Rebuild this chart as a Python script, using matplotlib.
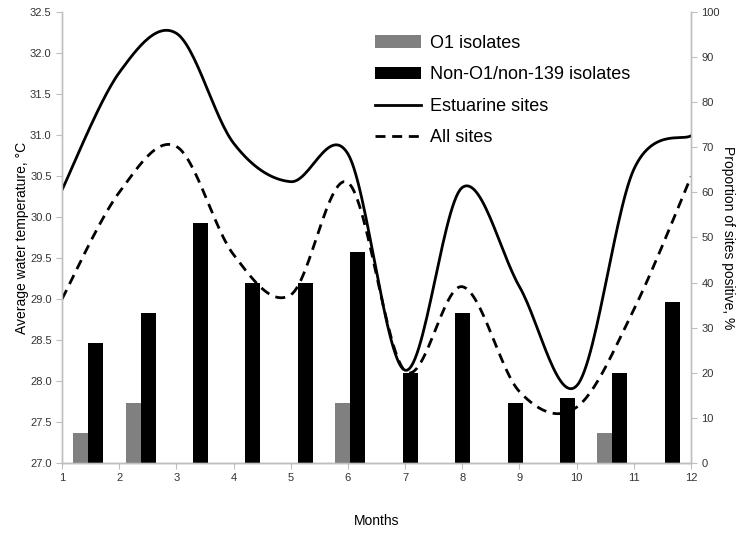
import numpy as np
import matplotlib
matplotlib.use("Agg")
import matplotlib.pyplot as plt
from matplotlib.patches import Patch
from matplotlib.lines import Line2D

# months on the x axis
months = [1, 2, 3, 4, 5, 6, 7, 8, 9, 10, 11, 12]

# average water temperature, deg C
estuarine = [30.33, 31.76, 32.24, 30.90, 30.43, 30.77, 28.13, 30.36, 29.15, 27.94, 30.58, 30.99]
all_sites = [29.00, 30.30, 30.86, 29.54, 29.05, 30.42, 28.12, 29.15, 27.87, 27.68, 28.87, 30.49]

# proportion of sites positive, % (12 bar groups)
o1_isolates = [6.7, 13.3, 0, 0, 0, 13.3, 0, 0, 0, 0, 6.7, 0]
non_o1 = [26.7, 33.3, 53.3, 40.0, 40.0, 46.7, 20.0, 33.3, 13.3, 14.3, 20.0, 35.7]


def smooth(x, y, n=30):
    # Excel-style smoothed line (Catmull-Rom bezier)
    x = np.asarray(x, float)
    y = np.asarray(y, float)
    px = np.concatenate([[x[0]], x, [x[-1]]])
    py = np.concatenate([[y[0]], y, [y[-1]]])
    xs, ys = [], []
    t = np.linspace(0, 1, n)
    for i in range(1, len(px) - 2):
        p0 = np.array([px[i], py[i]])
        p3 = np.array([px[i + 1], py[i + 1]])
        p1 = p0 + (p3 - np.array([px[i - 1], py[i - 1]])) / 6
        p2 = p3 - (np.array([px[i + 2], py[i + 2]]) - p0) / 6
        pts = ((1 - t) ** 3)[:, None] * p0 + (3 * (1 - t) ** 2 * t)[:, None] * p1 \
            + (3 * (1 - t) * t ** 2)[:, None] * p2 + (t ** 3)[:, None] * p3
        xs.extend(pts[:, 0])
        ys.extend(pts[:, 1])
    return xs, ys


plt.rcParams['font.family'] = ['Liberation Sans', 'DejaVu Sans']

fig = plt.figure(figsize=(7.5, 5.44), dpi=100)
ax = fig.add_axes([0.0827, 0.149, 0.8386, 0.829])
ax2 = ax.twinx()

# bars on the percentage axis
ncat = len(non_o1)
centers = 1 + (np.arange(ncat) + 0.5) * 11 / ncat
w = 0.262
ax.bar(centers - w / 2, o1_isolates, width=w, color='#808080', linewidth=0)
ax.bar(centers + w / 2, non_o1, width=w, color='black', linewidth=0)
ax.set_ylim(0, 100)
ax.set_xlim(1, 12)
ax.yaxis.tick_right()
ax.yaxis.set_label_position('right')
ax.set_yticks(range(0, 101, 10))
ax.set_ylabel('Proportion of sites positive, %', rotation=270, labelpad=11, fontsize=10)

# temperature lines
dash = (0, (3.6, 2.4))
sx, sy = smooth(months, estuarine)
ax2.plot(sx, sy, color='black', lw=2.0, solid_capstyle='round')
sx, sy = smooth(months, all_sites)
ax2.plot(sx, sy, color='black', lw=2.0, linestyle=dash)
ax2.set_ylim(27.0, 32.5)
ax2.yaxis.tick_left()
ax2.yaxis.set_label_position('left')
ticks = np.arange(27.0, 32.51, 0.5)
ax2.set_yticks(ticks)
ax2.set_yticklabels([f'{v:.1f}' for v in ticks])
ax2.set_ylabel('Average water temperature, °C', fontsize=10, labelpad=1)

ax.set_xticks(months)
ax.set_xlabel('Months', fontsize=10, labelpad=22)

for a in (ax, ax2):
    a.spines['top'].set_visible(False)
    for s in ('left', 'right', 'bottom'):
        a.spines[s].set_color('#bfbfbf')
        a.spines[s].set_linewidth(1.0)
    a.tick_params(axis='both', colors='#bfbfbf', labelcolor='#333333',
                  labelsize=8, length=4, width=0.8)
ax.spines['bottom'].set_color('#9a9a9a')

handles = [
    Patch(facecolor='#808080', edgecolor='none', label='O1 isolates'),
    Patch(facecolor='black', edgecolor='none', label='Non-O1/non-139 isolates'),
    Line2D([], [], color='black', lw=2.0, label='Estuarine sites'),
    Line2D([], [], color='black', lw=2.0, linestyle=dash, label='All sites'),
]
ax2.legend(handles=handles, loc='upper left', bbox_to_anchor=(0.472, 0.985),
           frameon=False, fontsize=13, handlelength=2.55, handleheight=0.7,
           handletextpad=0.5, labelspacing=0.8)

fig.savefig('out.png', dpi=100)
